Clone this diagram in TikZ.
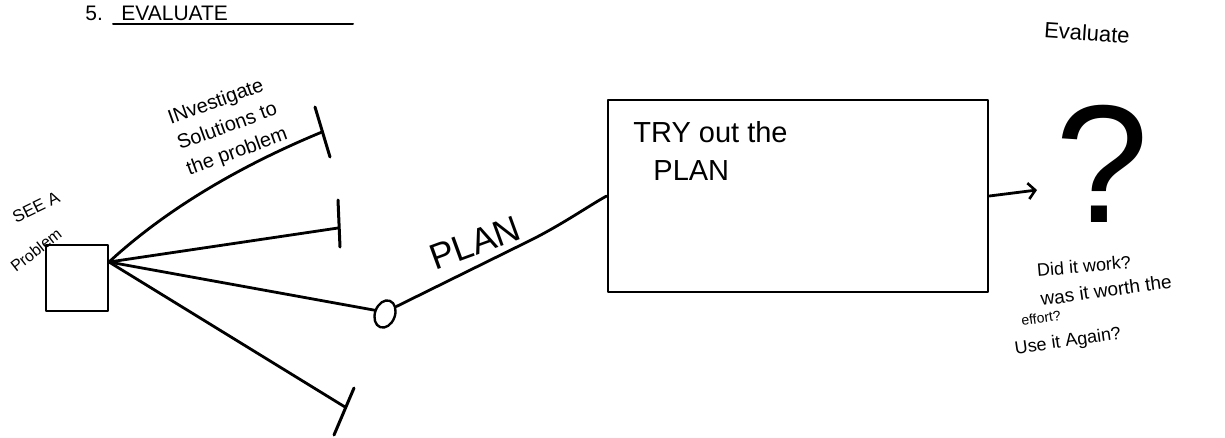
\documentclass[tikz,border=0pt]{standalone}
\usepackage{fontspec}
\setmainfont{Liberation Sans}
\usetikzlibrary{shapes.geometric,arrows.meta}
\begin{document}
\begin{tikzpicture}[x=1pt,y=-1pt,line width=2.8pt,line cap=round,line join=round,
  hand/.style={font=\fontsize{17}{20}\selectfont,inner sep=0pt,align=left},
  sketchbox/.style={draw,line width=2.8pt,inner sep=0pt},
  bar/.style={line width=3pt}]
\useasboundingbox (0,0) rectangle (1225,437);
% title
\node[hand,font=\fontsize{21}{23}\selectfont,anchor=base west] (num) at (84,20) {5.};
\node[hand,font=\fontsize{21}{23}\selectfont,anchor=base west] (ttl) at (120,20) {EVALUATE};
\coordinate (ul1) at (113,24);
\coordinate (ul2) at (353,24);
\draw[line width=2pt] (ul1) -- (ul2);
\node[hand,font=\fontsize{22}{24}\selectfont,rotate=-4] (evr) at (1087,33) {Evaluate};
% see a problem box
\node[sketchbox,minimum width=62pt,minimum height=66pt] (see) at (77,278) {};
\coordinate (hub) at (109,262);
\node[hand,rotate=26] (seea) at (36,207) {SEE A};
\node[hand,font=\fontsize{16}{18}\selectfont,rotate=38] (prob) at (36,250) {Problem};
% investigate label
\node[hand,font=\fontsize{20}{27}\selectfont,rotate=20] (inv) at (228,127) {INvestigate\\Solutions to\\the problem};
% branch ends
\coordinate (t1) at (322,132);
\coordinate (t1a) at (315,107);
\coordinate (t1b) at (330,157);
\coordinate (t2) at (338,228);
\coordinate (t2a) at (338,200);
\coordinate (t2b) at (340,247);
\coordinate (t4) at (345,407);
\coordinate (t4a) at (354,388);
\coordinate (t4b) at (334,435);
\node[draw,ellipse,line width=2.4pt,minimum width=20pt,minimum height=28pt,inner sep=0pt,rotate=-20] (circ) at (385,314) {};
\draw (hub) .. controls (160,215) and (230,170) .. (t1);
\draw[bar] (t1a) -- (t1b);
\draw (hub) -- (t2);
\draw[bar] (t2a) -- (t2b);
\draw (hub) -- (circ.west);
\draw (hub) -- (t4);
\draw[bar] (t4a) -- (t4b);
% plan
\node[sketchbox,minimum width=380pt,minimum height=192pt] (try) at (798,196) {};
\coordinate (pl) at (527,242);
\draw (circ.north east) -- (pl) .. controls (560,226) and (590,205) .. (try.west);
\node[hand,font=\fontsize{36}{38}\selectfont,rotate=20] (plan) at (475,243) {PLAN};
\node[hand,font=\fontsize{29}{38}\selectfont,anchor=north west] (trytext) at (632,120) {TRY out the\\\hspace*{20pt}PLAN};
% evaluate
\coordinate (arrend) at (1037,190);
\draw[-{Straight Barb[length=7pt,width=16pt,line width=2.6pt]}] (try.east) -- (arrend);
\node[hand,font=\fontsize{168}{168}\selectfont] (q) at (1102,164) {?};
\node[hand,font=\fontsize{18}{20}\selectfont,rotate=5] (did) at (1084,266) {Did it work?};
\node[hand,font=\fontsize{19}{21}\selectfont,rotate=8] (was) at (1106,290) {was it worth the};
\node[hand,rotate=8,font=\fontsize{14}{16}\selectfont] (eff) at (1041,318) {effort?};
\node[hand,font=\fontsize{18}{20}\selectfont,rotate=8] (use) at (1068,342) {Use it Again?};
\end{tikzpicture}
\end{document}
